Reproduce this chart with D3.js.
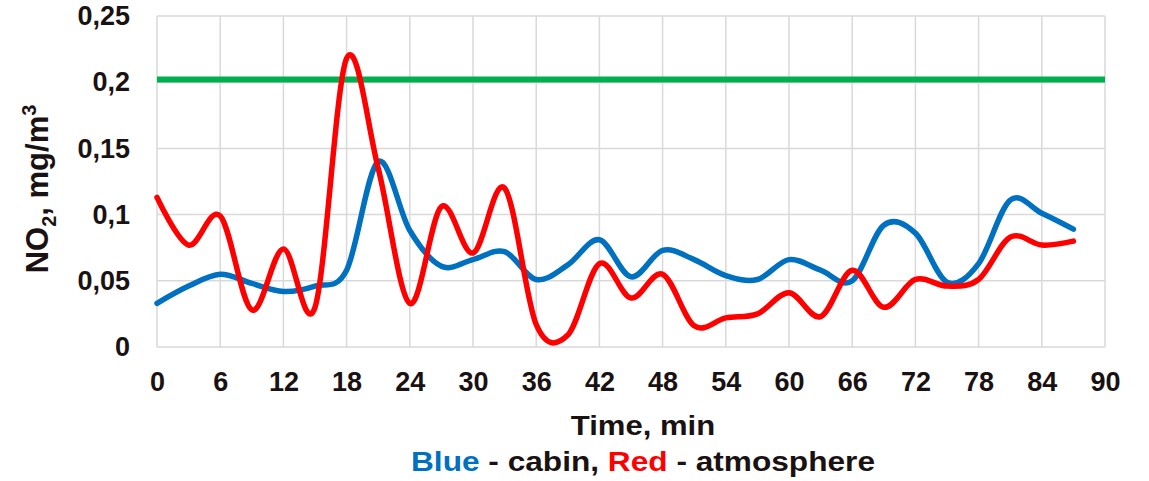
<!DOCTYPE html>
<html>
<head>
<meta charset="utf-8">
<script src="https://cdn.jsdelivr.net/npm/d3@7"></script>
<style>
  body { margin: 0; background: #fff; }
  svg { display: block; font-family: "Liberation Sans", Arial, sans-serif; font-weight: bold; }
</style>
</head>
<body>
<div id="chart"></div>
<script>
const times = [0, 3, 6, 9, 12, 15, 18, 21, 24, 27, 30, 33, 36, 39, 42, 45, 48, 51, 54, 57, 60, 63, 66, 69, 72, 75, 78, 81, 84, 87];
const cabin = [0.033, 0.046, 0.055, 0.048, 0.042, 0.046, 0.058, 0.140, 0.088, 0.061, 0.066, 0.072, 0.051, 0.062, 0.081, 0.053, 0.073, 0.066, 0.054, 0.051, 0.066, 0.058, 0.050, 0.092, 0.086, 0.049, 0.063, 0.111, 0.101, 0.089];
const atmosphere = [0.113, 0.077, 0.099, 0.028, 0.074, 0.030, 0.218, 0.135, 0.033, 0.106, 0.071, 0.120, 0.017, 0.009, 0.063, 0.037, 0.055, 0.016, 0.022, 0.025, 0.041, 0.023, 0.058, 0.030, 0.051, 0.046, 0.051, 0.083, 0.077, 0.080];
const limitTimes = [0, 90];
const limitValue = [0.202, 0.202];
const xTicks = [0, 6, 12, 18, 24, 30, 36, 42, 48, 54, 60, 66, 72, 78, 84, 90];
const yTicks = [0, 0.05, 0.1, 0.15, 0.2, 0.25];

const width = 1149;
const height = 481;
const margin = { top: 16, right: 44, bottom: 134, left: 157 };
const innerW = width - margin.left - margin.right;
const innerH = height - margin.top - margin.bottom;
const textColor = "#1a1212";

const svg = d3
  .select("#chart")
  .append("svg")
  .attr("width", width)
  .attr("height", height);

const g = svg.append("g").attr("transform", `translate(${margin.left},${margin.top})`);

const xScale = d3.scaleLinear().domain([0, 90]).range([0, innerW]);
const yScale = d3.scaleLinear().domain([0, 0.25]).range([innerH, 0]);

// grid
g.append("g")
  .selectAll("line")
  .data(xTicks)
  .enter()
  .append("line")
  .attr("x1", (d) => xScale(d))
  .attr("x2", (d) => xScale(d))
  .attr("y1", 0)
  .attr("y2", innerH)
  .attr("stroke", "#d9d9d9")
  .attr("stroke-width", 1.5);

g.append("g")
  .selectAll("line")
  .data(yTicks)
  .enter()
  .append("line")
  .attr("x1", 0)
  .attr("x2", innerW)
  .attr("y1", (d) => yScale(d))
  .attr("y2", (d) => yScale(d))
  .attr("stroke", "#d9d9d9")
  .attr("stroke-width", 1.5);

// axes (labels only)
const fmt = (d) => d3.format("")(+d.toFixed(2)).replace(".", ",");

const xAxis = g
  .append("g")
  .attr("transform", `translate(0,${innerH})`)
  .call(d3.axisBottom(xScale).tickValues(xTicks).tickSize(0).tickPadding(25));
xAxis.select(".domain").remove();
xAxis.selectAll("text").attr("font-size", 27).attr("fill", textColor).attr("font-family", null);

const yAxis = g
  .append("g")
  .call(d3.axisLeft(yScale).tickValues(yTicks).tickFormat(fmt).tickSize(0).tickPadding(27));
yAxis.select(".domain").remove();
yAxis.selectAll("text").attr("font-size", 27).attr("fill", textColor).attr("font-family", null);

// lines
const line = d3
  .line()
  .x((d) => xScale(d[0]))
  .y((d) => yScale(d[1]))
  .curve(d3.curveCardinal.tension(0));

g.append("path")
  .datum(d3.zip(limitTimes, limitValue))
  .attr("d", line.curve(d3.curveLinear))
  .attr("fill", "none")
  .attr("stroke", "#00b050")
  .attr("stroke-width", 6);

line.curve(d3.curveCardinal.tension(0));

g.append("path")
  .datum(d3.zip(times, cabin))
  .attr("d", line)
  .attr("fill", "none")
  .attr("stroke", "#0070c0")
  .attr("stroke-width", 5.5)
  .attr("stroke-linejoin", "round")
  .attr("stroke-linecap", "round");

g.append("path")
  .datum(d3.zip(times, atmosphere))
  .attr("d", line)
  .attr("fill", "none")
  .attr("stroke", "#ff0000")
  .attr("stroke-width", 5.5)
  .attr("stroke-linejoin", "round")
  .attr("stroke-linecap", "round");

// axis titles
const yTitle = svg
  .append("text")
  .attr("transform", `translate(48,189) rotate(-90)`)
  .attr("text-anchor", "middle")
  .attr("font-size", 31)
  .attr("fill", textColor);
yTitle.append("tspan").text("NO");
yTitle.append("tspan").attr("font-size", 20).attr("dy", 8).text("2");
yTitle.append("tspan").attr("dy", -8).text(", mg/m");
yTitle.append("tspan").attr("font-size", 20).attr("dy", -12).text("3");

// glyphs in the source are a little wider than Liberation Sans
svg
  .append("text")
  .attr("transform", "translate(643,435) scale(1.11,1)")
  .attr("text-anchor", "middle")
  .attr("font-size", 28)
  .attr("fill", textColor)
  .text("Time, min");

const legend = svg
  .append("text")
  .attr("transform", "translate(643,471) scale(1.13,1)")
  .attr("text-anchor", "middle")
  .attr("font-size", 28)
  .attr("fill", textColor);
legend.append("tspan").attr("fill", "#0070c0").text("Blue");
legend.append("tspan").text(" - cabin, ");
legend.append("tspan").attr("fill", "#ff0000").text("Red");
legend.append("tspan").text(" - atmosphere");
</script>
</body>
</html>
